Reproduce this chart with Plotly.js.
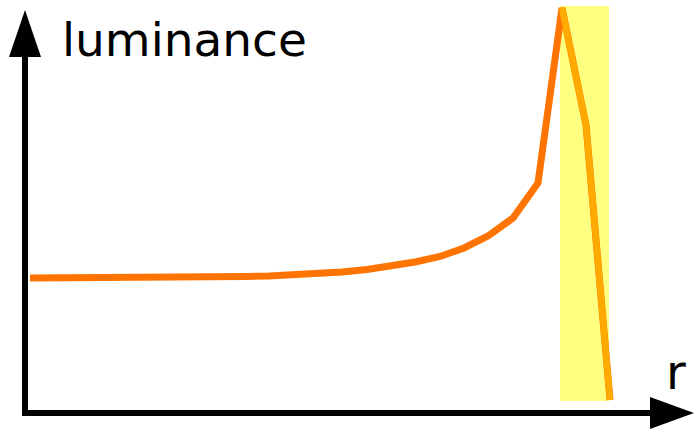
<!DOCTYPE html>
<html>
<head>
<meta charset="utf-8">
<script src="https://cdn.plot.ly/plotly-3.0.1.min.js"></script>
<style>html,body{margin:0;padding:0;background:#fff;}#chart{width:695px;height:431px;}</style>
</head>
<body>
<div id="chart"></div>
<script>
// radial distance r (arbitrary units) and luminance (arbitrary units)
var r = [3, 22, 47, 71, 95, 120, 144, 169, 193, 218, 242, 266, 291, 315, 340, 364, 388, 413, 437, 461, 486, 511, 535, 559, 583];
var luminance = [135, 135, 135, 135, 135, 135, 135.2, 135.5, 136, 136.5, 137, 138, 139.5, 141, 143.5, 147, 151, 156.5, 165, 177, 195, 230, 405, 288, 13];
// bright region (shaded band) and its falling edge
var bandR = [533, 582];
var bandLum = [12, 407];
var edgeR = [535, 559, 583];
var edgeLum = [405, 288, 13];
var yLabel = "luminance";
var xLabel = "r";

var traces = [
  {x: r, y: luminance, mode: 'lines', line: {color: '#ff7300', width: 7, shape: 'linear'}, hoverinfo: 'skip'},
  {x: edgeR, y: edgeLum, mode: 'lines', line: {color: '#ffaa00', width: 6.5}, hoverinfo: 'skip'}
];

var shapes = [
  {type: 'rect', xref: 'x', yref: 'y', x0: bandR[0], x1: bandR[1], y0: bandLum[0], y1: bandLum[1],
   fillcolor: '#ffff80', line: {width: 0}, layer: 'below'},
  // y axis arrow
  {type: 'line', xref: 'x', yref: 'y', x0: -2, x1: -2, y0: 0, y1: 360, line: {color: '#000', width: 6}},
  {type: 'path', xref: 'x', yref: 'y', path: 'M -2 403 L -18 356 L 14 356 Z', fillcolor: '#000', line: {width: 0}},
  // x axis arrow
  {type: 'line', xref: 'x', yref: 'y', x0: -5, x1: 628, y0: 0, y1: 0, line: {color: '#000', width: 6}},
  {type: 'path', xref: 'x', yref: 'y', path: 'M 667 0 L 623 16 L 623 -16 Z', fillcolor: '#000', line: {width: 0}}
];

var annotations = [
  {x: 33, y: 403, xref: 'x', yref: 'y', text: yLabel, showarrow: false, xanchor: 'left', yanchor: 'top',
   font: {family: 'DejaVu Sans', size: 47, color: '#000'}},
  {x: 637, y: 71, xref: 'x', yref: 'y', text: xLabel, showarrow: false, xanchor: 'left', yanchor: 'top',
   font: {family: 'DejaVu Sans', size: 48, color: '#000'}}
];

var layout = {
  width: 695, height: 431,
  margin: {l: 0, r: 0, t: 0, b: 0, pad: 0},
  paper_bgcolor: '#fff', plot_bgcolor: '#fff',
  showlegend: false,
  xaxis: {range: [-27, 668], visible: false, fixedrange: true},
  yaxis: {range: [-18, 413], visible: false, fixedrange: true},
  shapes: shapes,
  annotations: annotations
};

Plotly.newPlot('chart', traces, layout, {displayModeBar: false, staticPlot: true});
</script>
</body>
</html>
